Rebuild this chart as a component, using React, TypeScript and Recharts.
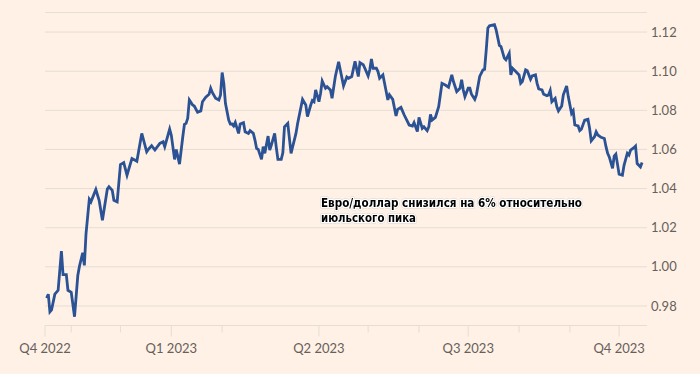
import React from 'react';
import { CartesianGrid, Line, LineChart, XAxis, YAxis } from 'recharts';

document.body.style.margin = '0';

// EUR/USD (approximate)
const dates = [
  '2022-10-17', '2022-10-18', '2022-10-19', '2022-10-20', '2022-10-22', '2022-10-24', '2022-10-26', '2022-10-27',
  '2022-10-29', '2022-10-30', '2022-11-01', '2022-11-03', '2022-11-05', '2022-11-06', '2022-11-08', '2022-11-09',
  '2022-11-10', '2022-11-12', '2022-11-13', '2022-11-16', '2022-11-18', '2022-11-20', '2022-11-23', '2022-11-24',
  '2022-11-26', '2022-11-27', '2022-11-29', '2022-12-01', '2022-12-03', '2022-12-05', '2022-12-08', '2022-12-10',
  '2022-12-11', '2022-12-14', '2022-12-17', '2022-12-18', '2022-12-20', '2022-12-22', '2022-12-25', '2022-12-27',
  '2022-12-28', '2022-12-31', '2023-01-01', '2023-01-03', '2023-01-04', '2023-01-06', '2023-01-08', '2023-01-09',
  '2023-01-10', '2023-01-11', '2023-01-12', '2023-01-14', '2023-01-15', '2023-01-17', '2023-01-19', '2023-01-20',
  '2023-01-22', '2023-01-24', '2023-01-25', '2023-01-26', '2023-01-28', '2023-01-30', '2023-01-31', '2023-02-01',
  '2023-02-02', '2023-02-03', '2023-02-05', '2023-02-06', '2023-02-07', '2023-02-08', '2023-02-09', '2023-02-11',
  '2023-02-12', '2023-02-14', '2023-02-15', '2023-02-17', '2023-02-18', '2023-02-20', '2023-02-21', '2023-02-22',
  '2023-02-23', '2023-02-25', '2023-02-26', '2023-02-27', '2023-03-01', '2023-03-02', '2023-03-03', '2023-03-05',
  '2023-03-06', '2023-03-07', '2023-03-09', '2023-03-10', '2023-03-11', '2023-03-13', '2023-03-15', '2023-03-16',
  '2023-03-18', '2023-03-19', '2023-03-22', '2023-03-24', '2023-03-25', '2023-03-27', '2023-03-28', '2023-03-29',
  '2023-03-30', '2023-04-01', '2023-04-02', '2023-04-03', '2023-04-05', '2023-04-06', '2023-04-08', '2023-04-09',
  '2023-04-11', '2023-04-13', '2023-04-16', '2023-04-18', '2023-04-19', '2023-04-21', '2023-04-23', '2023-04-25',
  '2023-04-26', '2023-04-28', '2023-04-29', '2023-05-01', '2023-05-02', '2023-05-03', '2023-05-04', '2023-05-06',
  '2023-05-07', '2023-05-08', '2023-05-10', '2023-05-12', '2023-05-13', '2023-05-14', '2023-05-16', '2023-05-18',
  '2023-05-19', '2023-05-21', '2023-05-23', '2023-05-25', '2023-05-26', '2023-05-28', '2023-05-29', '2023-05-31',
  '2023-06-01', '2023-06-03', '2023-06-04', '2023-06-06', '2023-06-07', '2023-06-08', '2023-06-09', '2023-06-11',
  '2023-06-13', '2023-06-15', '2023-06-17', '2023-06-19', '2023-06-21', '2023-06-22', '2023-06-24', '2023-06-26',
  '2023-06-27', '2023-06-28', '2023-06-29', '2023-07-01', '2023-07-02', '2023-07-03', '2023-07-05', '2023-07-06',
  '2023-07-08', '2023-07-10', '2023-07-11', '2023-07-12', '2023-07-13', '2023-07-14', '2023-07-17', '2023-07-18',
  '2023-07-20', '2023-07-21', '2023-07-23', '2023-07-24', '2023-07-26', '2023-07-27', '2023-07-28', '2023-07-30',
  '2023-08-01', '2023-08-02', '2023-08-03', '2023-08-05', '2023-08-06', '2023-08-08', '2023-08-09', '2023-08-11',
  '2023-08-12', '2023-08-13', '2023-08-15', '2023-08-16', '2023-08-18', '2023-08-19', '2023-08-20', '2023-08-21',
  '2023-08-23', '2023-08-24', '2023-08-25', '2023-08-27', '2023-08-28', '2023-08-30', '2023-08-31', '2023-09-02',
  '2023-09-03', '2023-09-04', '2023-09-06', '2023-09-07', '2023-09-08', '2023-09-10', '2023-09-12', '2023-09-13',
  '2023-09-14', '2023-09-16', '2023-09-17', '2023-09-18', '2023-09-20', '2023-09-22', '2023-09-23', '2023-09-24',
  '2023-09-25', '2023-09-27', '2023-09-28', '2023-09-29', '2023-10-01', '2023-10-03', '2023-10-04', '2023-10-06',
  '2023-10-07', '2023-10-08', '2023-10-10', '2023-10-11', '2023-10-12', '2023-10-14', '2023-10-15',
];

const eurUsd = [
  0.984, 0.986, 0.977, 0.978, 0.986, 0.988, 1.008, 0.996,
  0.996, 0.988, 0.987, 0.9745, 0.9956, 1.0003, 1.0072, 1.0007,
  1.0169, 1.0345, 1.0332, 1.0395, 1.034, 1.0238, 1.0397, 1.0409,
  1.0391, 1.034, 1.0332, 1.0523, 1.0533, 1.0468, 1.0554, 1.0545,
  1.054, 1.0682, 1.0588, 1.06, 1.0619, 1.0597, 1.0631, 1.0639,
  1.0614, 1.0704, 1.0673, 1.0549, 1.06, 1.0525, 1.0665, 1.0728,
  1.0733, 1.0759, 1.0853, 1.0827, 1.0822, 1.079, 1.0797, 1.0844,
  1.0867, 1.0882, 1.0913, 1.0891, 1.0862, 1.0853, 1.0879, 1.0993,
  1.0938, 1.0836, 1.075, 1.073, 1.073, 1.072, 1.0738, 1.0682,
  1.073, 1.0737, 1.069, 1.0682, 1.0696, 1.0682, 1.0648, 1.0605,
  1.06, 1.0549, 1.0614, 1.058, 1.0668, 1.0597, 1.0622, 1.0682,
  1.061, 1.0549, 1.0549, 1.0583, 1.0716, 1.0733, 1.058, 1.0614,
  1.0682, 1.0733, 1.0856, 1.0827, 1.0768, 1.0827, 1.085, 1.0844,
  1.0904, 1.0844, 1.0887, 1.095, 1.0913, 1.0921, 1.0904, 1.0862,
  1.0973, 1.1048, 1.0925, 1.097, 1.0964, 1.0973, 1.105, 1.0973,
  1.1044, 1.1033, 1.1015, 1.0976, 1.1007, 1.1062, 1.1015, 1.1015,
  1.0998, 1.0964, 1.0981, 1.0896, 1.0853, 1.0879, 1.0856, 1.0771,
  1.0805, 1.0815, 1.0776, 1.0742, 1.0725, 1.072, 1.0737, 1.0691,
  1.0764, 1.0708, 1.0716, 1.0696, 1.0716, 1.0779, 1.075, 1.0764,
  1.0819, 1.0938, 1.0929, 1.0918, 1.0981, 1.0947, 1.0896, 1.0913,
  1.0956, 1.0904, 1.087, 1.0913, 1.0913, 1.0882, 1.0856, 1.0879,
  1.0973, 1.1007, 1.101, 1.1109, 1.1221, 1.1232, 1.1238, 1.1212,
  1.1132, 1.1126, 1.1067, 1.1058, 1.1092, 1.0981, 1.1015, 1.0998,
  1.0981, 1.0938, 1.0947, 1.1007, 1.1002, 1.0959, 1.0976, 1.0981,
  1.0938, 1.0909, 1.0904, 1.0882, 1.0875, 1.0879, 1.0901, 1.0844,
  1.0861, 1.0819, 1.0797, 1.0822, 1.0879, 1.0925, 1.087, 1.0785,
  1.0798, 1.0725, 1.072, 1.0696, 1.0703, 1.075, 1.0754, 1.0708,
  1.0644, 1.0665, 1.069, 1.0674, 1.0662, 1.0656, 1.0614, 1.058,
  1.0562, 1.0503, 1.0566, 1.0576, 1.0473, 1.0468, 1.0519, 1.058,
  1.0571, 1.0597, 1.0609, 1.0617, 1.0528, 1.0511, 1.0533,
];

const quarterTicks = ['2022-10-16', '2023-01-01', '2023-04-01', '2023-07-01', '2023-10-01'];
const quarterLabels = ['Q4 2022', 'Q1 2023', 'Q2 2023', 'Q3 2023', 'Q4 2023'];
const monthTicks = ['2022-11-01', '2022-12-01', '2023-02-01', '2023-05-01', '2023-06-01', '2023-08-01', '2023-09-01'];
const yTicks = [0.98, 1.0, 1.02, 1.04, 1.06, 1.08, 1.1, 1.12];
const xRange = ['2022-10-16', '2023-10-18'];

const note = ['Евро/доллар снизился на 6% относительно', 'июльского пика'];

const toTs = (d: string) => Date.parse(d + 'T00:00:00Z');

const data = dates.map((d, i) => ({ ts: toTs(d), value: eurUsd[i] }));
const quarterTs = quarterTicks.map(toTs);
const allTicks = [...quarterTs, ...monthTicks.map(toTs)].sort((a, b) => a - b);

const BG = '#fff1e5';
const GRID = '#e6ddd4';
const TEXT = '#66605c';
const FONT = "Lato, 'Open Sans', sans-serif";

const XTick = (props: any) => {
  const { x, y, payload } = props;
  const qi = quarterTs.indexOf(payload.value);
  const major = qi >= 0;
  return (
    <g>
      <line x1={x} x2={x} y1={y} y2={y + (major ? 11 : 7)} stroke={GRID} strokeWidth={1} />
      {major && (
        <text x={x} y={y + 27} textAnchor="middle" fill={TEXT} fontSize={13} fontFamily={FONT}>
          {quarterLabels[qi]}
        </text>
      )}
    </g>
  );
};

const App = () => (
  <div style={{ position: 'relative', width: 700, height: 374, background: BG }}>
    <LineChart width={700} height={374} data={data} margin={{ top: 12.5, right: 0, left: 45, bottom: 0 }}>
      <CartesianGrid vertical={false} stroke={GRID} strokeWidth={1} />
      <XAxis
        dataKey="ts"
        type="number"
        scale="time"
        domain={xRange.map(toTs)}
        ticks={allTicks}
        interval={0}
        height={48.5}
        axisLine={{ stroke: GRID, strokeWidth: 1 }}
        tickLine={false}
        tickSize={0}
        tickMargin={0}
        tick={<XTick />}
      />
      <YAxis
        orientation="right"
        type="number"
        domain={[0.97, 1.13]}
        ticks={yTicks}
        width={53}
        axisLine={false}
        tickLine={false}
        tickSize={0}
        tickMargin={4}
        tickFormatter={(v: number) => v.toFixed(2)}
        tick={{ fill: TEXT, fontSize: 13, fontFamily: FONT, textAnchor: 'start' }}
      />
      <Line
        type="linear"
        dataKey="value"
        stroke="#2a5294"
        strokeWidth={2.8}
        dot={false}
        isAnimationActive={false}
      />
    </LineChart>
    <svg width={700} height={374} style={{ position: 'absolute', left: 0, top: 0, pointerEvents: 'none' }}>
      {note.map((line, i) => (
        <text
          key={i}
          x={321}
          y={207 + i * 14.5}
          textLength={i === 0 ? 261 : 95}
          lengthAdjust="spacingAndGlyphs"
          fontSize={13}
          fontWeight="bold"
          fontFamily="'DejaVu Sans Condensed', 'Liberation Sans Narrow', 'Noto Sans', sans-serif"
          fill="#000"
          stroke="#fff"
          strokeWidth={3}
          strokeLinejoin="round"
          paintOrder="stroke"
          style={{ filter: 'drop-shadow(0.6px 0.8px 0.4px rgba(0,0,0,0.35))' }}
        >
          {line}
        </text>
      ))}
    </svg>
  </div>
);

export default App;
